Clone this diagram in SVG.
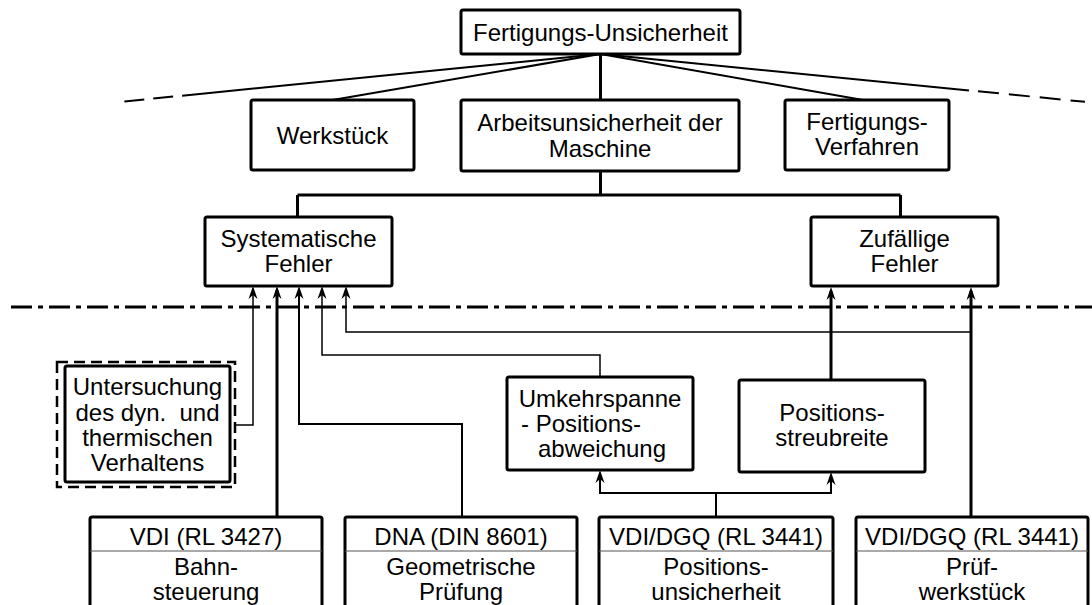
<svg xmlns="http://www.w3.org/2000/svg" width="1092" height="605" viewBox="0 0 1092 605">
<style>
text{font-family:"Liberation Sans",Arial,sans-serif;font-size:24px;fill:#000;text-anchor:middle}
.box{fill:#fff;stroke:#000;stroke-width:3}
.c{fill:none;stroke:#000;stroke-linejoin:miter}
.w3{stroke-width:3}.w2{stroke-width:2}.w15{stroke-width:1.5}
.sep{stroke:#555;stroke-width:1}
</style>
<defs>
<marker id="ah" viewBox="-14 -6 15 12" refX="-4" refY="0" markerWidth="15" markerHeight="12" markerUnits="userSpaceOnUse" orient="auto">
<path d="M0,0 L-13,-4.5 L-9,0 L-13,4.5 Z" fill="#000"/>
</marker>
</defs>
<rect width="1092" height="605" fill="#fff"/>
<g id="connectors">
<path class="c w3" d="M600.5,54 V100"/>
<path class="c w2" d="M600.5,54 L332.5,100"/>
<path class="c w2" d="M600.5,54 L863,100"/>
<path class="c w2" d="M600.5,54 L202,93.7"/>
<path class="c w2" d="M202,93.7 L122,101.7" stroke-dasharray="20 9"/>
<path class="c w2" d="M600.5,54 L969,90.4"/>
<path class="c w2" d="M978,91.3 L1085,101.8" stroke-dasharray="21 10"/>
<path class="c w3" d="M600.5,171 V195"/>
<path class="c w3" d="M297.5,195 H900.5 M297.5,195 V217 M900.5,195 V217"/>
<path class="c w3" d="M11,307 H1092" stroke-dasharray="21 6 5 6"/>
<path class="c w15" d="M235,425 H253 V290" marker-end="url(#ah)"/>
<path class="c w3" d="M277,517 V290" marker-end="url(#ah)"/>
<path class="c w2" d="M462,517 V424 H299 V290" marker-end="url(#ah)"/>
<path class="c w15" d="M600,377 V355 H322 V290" marker-end="url(#ah)"/>
<path class="c w15" d="M971,332 H346 V290" marker-end="url(#ah)"/>
<path class="c w3" d="M971,517 V291" marker-end="url(#ah)"/>
<path class="c w3" d="M831,380 V291" marker-end="url(#ah)"/>
<path class="c w2" d="M716,517 V493"/>
<path class="c w2" d="M716,493 H600 V474" marker-end="url(#ah)"/>
<path class="c w2" d="M716,493 H831 V476" marker-end="url(#ah)"/>
</g>
<g id="n-fertigungs-unsicherheit">
<rect class="box" x="461" y="10" width="279" height="44" rx="2"/>
<text x="600.5" y="41">Fertigungs-Unsicherheit</text>
</g>
<g id="n-werkstueck">
<rect class="box" x="251" y="100" width="163" height="70" rx="2"/>
<text x="332.5" y="144">Werkstück</text>
</g>
<g id="n-arbeitsunsicherheit">
<rect class="box" x="461" y="100" width="278" height="71" rx="2"/>
<text x="600" y="131">Arbeitsunsicherheit der</text>
<text x="600" y="157">Maschine</text>
</g>
<g id="n-fertigungsverfahren">
<rect class="box" x="785" y="100" width="164" height="70" rx="2"/>
<text x="867" y="130">Fertigungs-</text>
<text x="867" y="155">Verfahren</text>
</g>
<g id="n-systematische">
<rect class="box" x="205" y="217" width="187" height="69" rx="2"/>
<text x="298.5" y="247">Systematische</text>
<text x="298.5" y="272">Fehler</text>
</g>
<g id="n-zufaellige">
<rect class="box" x="811" y="217" width="187" height="69" rx="2"/>
<text x="904.5" y="247">Zufällige</text>
<text x="904.5" y="272">Fehler</text>
</g>
<g id="n-untersuchung">
<rect x="57" y="362" width="178" height="125" fill="none" stroke="#000" stroke-width="2.5" stroke-dasharray="11 6"/>
<rect class="box" x="65" y="366" width="165" height="116" rx="2"/>
<text x="147.5" y="395">Untersuchung</text>
<text x="147.5" y="421" xml:space="preserve">des dyn.  und</text>
<text x="147.5" y="446">thermischen</text>
<text x="147.5" y="471">Verhaltens</text>
</g>
<g id="n-umkehrspanne">
<rect class="box" x="507" y="377" width="186" height="93" rx="2"/>
<text x="600" y="407">Umkehrspanne</text>
<text x="521" y="432" style="text-anchor:start">- Positions-</text>
<text x="602" y="457">abweichung</text>
</g>
<g id="n-positionsstreubreite">
<rect class="box" x="739" y="380" width="186" height="92" rx="2"/>
<text x="832" y="421">Positions-</text>
<text x="832" y="446">streubreite</text>
</g>
<g id="n-vdi3427">
<rect class="box" x="90" y="517" width="232" height="120" rx="2"/>
<path class="sep" d="M90,551 H322"/>
<text x="206" y="545">VDI (RL 3427)</text>
<text x="206" y="575">Bahn-</text>
<text x="206" y="600">steuerung</text>
</g>
<g id="n-dna8601">
<rect class="box" x="345" y="517" width="232" height="120" rx="2"/>
<path class="sep" d="M345,551 H577"/>
<text x="461" y="545">DNA (DIN 8601)</text>
<text x="461" y="575">Geometrische</text>
<text x="461" y="600">Prüfung</text>
</g>
<g id="n-vdidgq-pos">
<rect class="box" x="599" y="517" width="234" height="120" rx="2"/>
<path class="sep" d="M599,551 H833"/>
<text x="716" y="545">VDI/DGQ (RL 3441)</text>
<text x="716" y="575">Positions-</text>
<text x="716" y="600">unsicherheit</text>
</g>
<g id="n-vdidgq-pruef">
<rect class="box" x="856" y="517" width="232" height="120" rx="2"/>
<path class="sep" d="M856,551 H1088"/>
<text x="972" y="545">VDI/DGQ (RL 3441)</text>
<text x="972" y="575">Prüf-</text>
<text x="972" y="600">werkstück</text>
</g>
</svg>
